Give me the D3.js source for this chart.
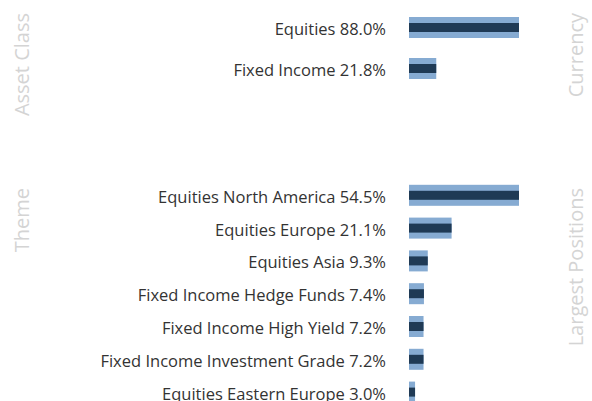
<!DOCTYPE html>
<html>
<head>
<meta charset="utf-8">
<script src="https://cdn.jsdelivr.net/npm/d3@7"></script>
<style>
  body { margin: 0; background: #fff; }
  text { font-family: "Open Sans", "Noto Sans", sans-serif; }
</style>
</head>
<body>
<div id="chart"></div>
<script>
// data
const assetNames = ["Equities", "Fixed Income"]
const assetValues = [88.0, 21.8]

const themeNames = ["Equities North America", "Equities Europe", "Equities Asia",
  "Fixed Income Hedge Funds", "Fixed Income High Yield",
  "Fixed Income Investment Grade", "Equities Eastern Europe"]
const themeValues = [54.5, 21.1, 9.3, 7.4, 7.2, 7.2, 3.0]

const leftTitles = ["Asset Class", "Theme"]
const rightTitles = ["Currency", "Largest Positions"]

//------------- dimensions
const dims = { width: 592, height: 401 }

const svg = d3.select("#chart").append("svg")
  .attr("width", dims.width)
  .attr("height", dims.height)

const fmt = d3.format(".1f")

function drawPanel(names, values, yRange, xMax) {
  const data = names.map((n, i) => ({ name: n, value: values[i] }))

  const y = d3.scaleBand()
    .domain(names)
    .range(yRange)

  const x = d3.scaleLinear()
    .domain([0, xMax])
    .range([409, 519])

  const g = svg.append("g")

  const rows = g.selectAll("g.row")
    .data(data)
    .join("g")
    .attr("class", "row")
    .attr("transform", d => `translate(0,${y(d.name) + y.bandwidth() / 2})`)

  rows.append("rect")
    .attr("x", x(0))
    .attr("y", -10.5)
    .attr("width", d => x(d.value) - x(0))
    .attr("height", 21)
    .attr("fill", "#86abd2")

  rows.append("rect")
    .attr("x", x(0))
    .attr("y", -4.5)
    .attr("width", d => x(d.value) - x(0))
    .attr("height", 9)
    .attr("fill", "#1f3a55")

  rows.append("text")
    .attr("x", 386)
    .attr("y", 0)
    .attr("dy", "0.45em")
    .attr("text-anchor", "end")
    .attr("font-size", 16.5)
    .attr("fill", "#333")
    .text(d => `${d.name} ${fmt(d.value)}%`)
}

drawPanel(assetNames, assetValues, [7, 89], d3.max(assetValues))
drawPanel(themeNames, themeValues, [178.9, 178.9 + 7 * 32.8], d3.max(themeValues))

//------------- panel titles
const titleY = [13, 188]

svg.selectAll("text.left-title")
  .data(leftTitles)
  .join("text")
  .attr("class", "left-title")
  .attr("transform", (d, i) => `translate(29,${titleY[i]}) rotate(-90)`)
  .attr("text-anchor", "end")
  .attr("font-size", 20)
  .attr("fill", "#d4d4d4")
  .text(d => d)

svg.selectAll("text.right-title")
  .data(rightTitles)
  .join("text")
  .attr("class", "right-title")
  .attr("transform", (d, i) => `translate(583,${titleY[i]}) rotate(-90)`)
  .attr("text-anchor", "end")
  .attr("font-size", 20)
  .attr("fill", "#d4d4d4")
  .text(d => d)
</script>
</body>
</html>
